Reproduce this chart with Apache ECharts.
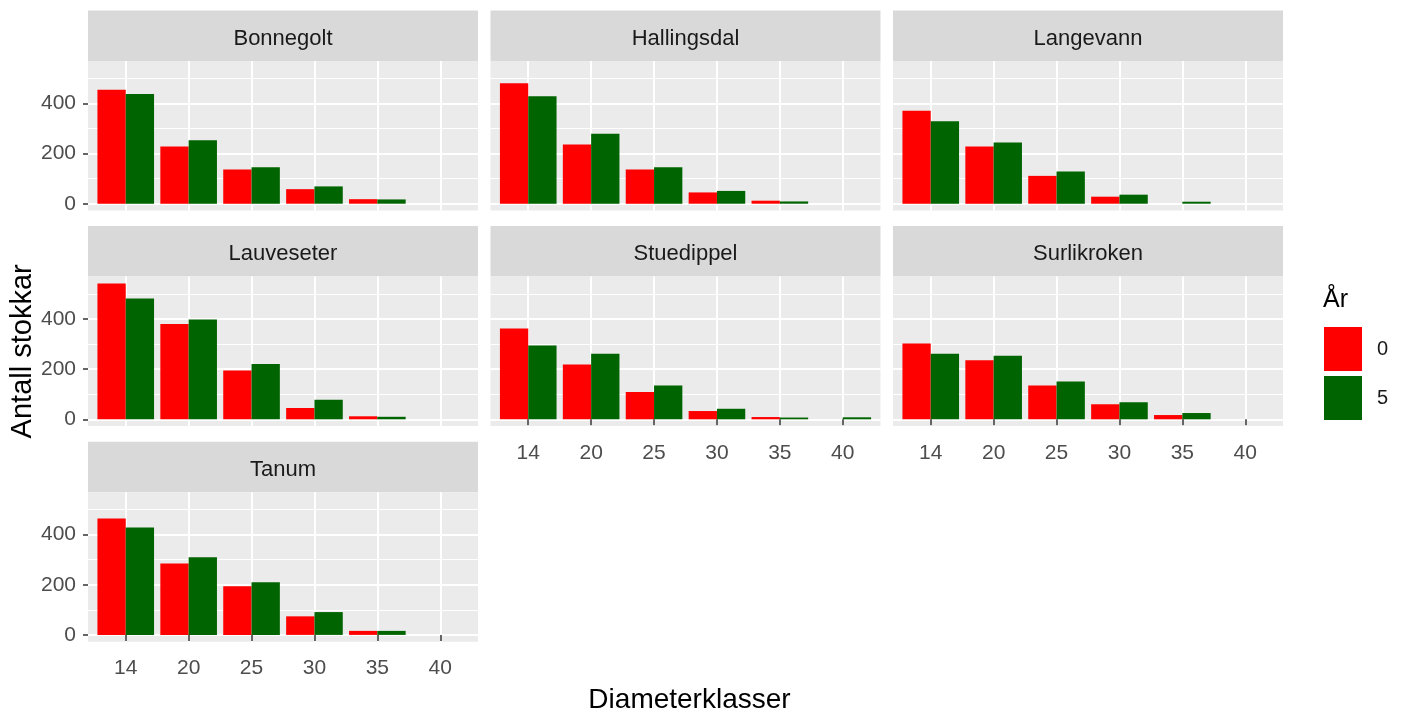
<!DOCTYPE html>
<html>
<head>
<meta charset="utf-8">
<title>Antall stokkar per diameterklasse</title>
<script src="https://cdn.jsdelivr.net/npm/echarts@6/dist/echarts.min.js"></script>
<style>
  html, body { margin: 0; padding: 0; background: #fff; }
  #chart { width: 1405px; height: 720px; }
</style>
</head>
<body>
<div id="chart"></div>
<script>
// diameterklassar (x-aksen) og flatene (ein fasett kvar)
const klasser = ['14', '20', '25', '30', '35', '40'];
const flater = ['Bonnegolt', 'Hallingsdal', 'Langevann', 'Lauveseter', 'Stuedippel', 'Surlikroken', 'Tanum'];
// antall stokkar, år 0 - ei rad per flate
const aar0 = [
    [454, 228, 136, 58, 18, 0],
    [480, 236, 136, 45, 12, 0],
    [371, 228, 111, 28, 0, 0],
    [542, 380, 195, 45, 12, 0],
    [362, 219, 109, 33, 9, 0],
    [302, 236, 135, 60, 17, 0],
    [464, 285, 194, 74, 16, 0]
];
// antall stokkar, år 5
const aar5 = [
    [437, 253, 145, 69, 17, 0],
    [429, 279, 145, 51, 9, 0],
    [329, 244, 128, 36, 8, 0],
    [482, 398, 221, 78, 10, 0],
    [294, 261, 135, 42, 7, 8],
    [261, 253, 151, 68, 25, 0],
    [428, 310, 210, 91, 16, 0]
];
const yTicks = [0, 200, 400];
const yMinor = [100, 300, 500];

const font = "'Liberation Sans', Arial, sans-serif";
const W_PANEL = 390, STRIP_H = 50.5, PANEL_H = 149.5;
const colLefts = [88, 490.5, 893];
const rowTops = [10.5, 226.1, 441.7];
const unit = W_PANEL / (klasser.length + 0.2);

// ggplot-utviding: 5 % på kvar side
const dataMax = Math.max(...aar0.flat(), ...aar5.flat());
const yMax = dataMax * 1.05, yMin = -dataMax * 0.05;
function yPos(pTop, v) {
    return pTop + (yMax - v) / (yMax - yMin) * PANEL_H;
}

const grid = [], xAxis = [], yAxis = [], series = [], title = [];
const hidden = { show: false };

function addGrid(rect, bg) {
    grid.push(Object.assign({
        show: !!bg, backgroundColor: bg || 'transparent', borderWidth: 0,
        containLabel: false, outerBoundsMode: 'none'
    }, rect));
    return grid.length - 1;
}
function axis(gi, extra) {
    return Object.assign({ gridIndex: gi, type: 'value', show: false }, extra);
}
const labelStyle = { fontSize: 21, color: '#4D4D4D', fontFamily: font };
const tickStyle = { color: '#333333', width: 1.5 };

flater.forEach((navn, i) => {
    const col = i % 3, row = Math.floor(i / 3);
    const left = colLefts[col], top = rowTops[row];
    const pTop = top + STRIP_H;
    const nedst = i >= 4;       // panel med x-etikettar
    const venstre = col === 0;  // panel med y-etikettar

    // stripe med namn
    let g = addGrid({ left: left, top: top, width: W_PANEL, height: STRIP_H }, '#D9D9D9');
    xAxis.push(axis(g)); yAxis.push(axis(g));
    title.push({
        text: navn, left: left + W_PANEL / 2, top: top + STRIP_H / 2 + 2.7,
        textAlign: 'center', textVerticalAlign: 'middle', padding: 0,
        textStyle: { fontSize: 22, fontWeight: 'normal', color: '#1A1A1A', fontFamily: font }
    });

    // bakgrunn
    g = addGrid({ left: left, top: pTop, width: W_PANEL, height: PANEL_H }, '#EBEBEB');
    xAxis.push(axis(g)); yAxis.push(axis(g));

    // loddrette rutelinjer ved kvar klasse
    g = addGrid({ left: left + 0.6 * unit, top: pTop, width: (klasser.length - 1) * unit, height: PANEL_H });
    xAxis.push(axis(g, {
        show: true, min: 0, max: klasser.length - 1, interval: 1,
        axisLine: hidden, axisTick: hidden, axisLabel: hidden,
        splitLine: { show: true, lineStyle: { color: '#FFFFFF', width: 2 } }
    }));
    yAxis.push(axis(g));

    // tynne linjer 0..500
    const y0 = yPos(pTop, 0);
    const yTop5 = yPos(pTop, yMinor[yMinor.length - 1]);
    const yTop4 = yPos(pTop, yTicks[yTicks.length - 1]);
    g = addGrid({ left: left, top: yTop5, width: W_PANEL, height: y0 - yTop5 });
    xAxis.push(axis(g));
    yAxis.push(axis(g, {
        show: true, min: 0, max: yMinor[yMinor.length - 1], interval: 100,
        axisLine: hidden, axisTick: hidden, axisLabel: hidden,
        splitLine: { show: true, lineStyle: { color: '#FFFFFF', width: 1.1 } }
    }));

    // hovudlinjer 0, 200, 400 (med etikettar i venstre kolonne)
    g = addGrid({ left: left, top: yTop4, width: W_PANEL, height: y0 - yTop4 });
    xAxis.push(axis(g));
    yAxis.push(axis(g, {
        show: true, min: 0, max: yTicks[yTicks.length - 1], interval: 200,
        axisLine: hidden,
        axisTick: { show: venstre, length: 5, lineStyle: tickStyle },
        axisLabel: Object.assign({ show: venstre, margin: 12 }, labelStyle),
        splitLine: { show: true, lineStyle: { color: '#FFFFFF', width: 2 } }
    }));

    // stolpar
    g = addGrid({ left: left + 0.1 * unit, top: pTop, width: klasser.length * unit, height: PANEL_H });
    xAxis.push({
        gridIndex: g, type: 'category', data: klasser, show: true,
        axisLine: hidden,
        axisTick: { show: nedst, alignWithLabel: true, length: 6, lineStyle: tickStyle },
        axisLabel: Object.assign({ show: nedst, margin: 16.5, interval: 0 }, labelStyle),
        splitLine: hidden
    });
    yAxis.push(axis(g, { min: yMin, max: yMax }));
    series.push({
        type: 'bar', name: '0', xAxisIndex: g, yAxisIndex: g, data: aar0[i],
        barGap: '0%', barCategoryGap: '10%', itemStyle: { color: '#FF0000' }
    }, {
        type: 'bar', name: '5', xAxisIndex: g, yAxisIndex: g, data: aar5[i],
        barGap: '0%', barCategoryGap: '10%', itemStyle: { color: '#006400' }
    });
});

// aksetitlar
const fg = addGrid({ left: 88, top: 61, width: 1203, height: 641.7 - 61 });
xAxis.push(axis(fg, {
    show: true, axisLine: hidden, axisTick: hidden, axisLabel: hidden, splitLine: hidden,
    name: 'Diameterklasser', nameLocation: 'middle', nameGap: 45,
    nameTextStyle: { fontSize: 28, color: '#000000', fontFamily: font }
}));
yAxis.push(axis(fg, {
    show: true, axisLine: hidden, axisTick: hidden, axisLabel: hidden, splitLine: hidden,
    name: 'Antall stokkar', nameLocation: 'middle', nameGap: 51, nameRotate: 90,
    nameTextStyle: { fontSize: 29, color: '#000000', fontFamily: font }
}));

// forklaring
title.push({
    text: 'År', left: 1323, top: 300, textAlign: 'left', textVerticalAlign: 'middle', padding: 0,
    textStyle: { fontSize: 25, fontWeight: 'normal', color: '#000000', fontFamily: font }
});

const chart = echarts.init(document.getElementById('chart'));
chart.setOption({
    animation: false,
    backgroundColor: '#FFFFFF',
    title: title,
    legend: {
        data: ['0', '5'], orient: 'vertical', left: 1324, top: 327,
        itemWidth: 38, itemHeight: 44, itemGap: 5, icon: 'rect', padding: 0,
        textStyle: { fontSize: 20, color: '#1A1A1A', fontFamily: font, padding: [22, 0, 0, 10] }
    },
    grid: grid,
    xAxis: xAxis,
    yAxis: yAxis,
    series: series
});
</script>
</body>
</html>
